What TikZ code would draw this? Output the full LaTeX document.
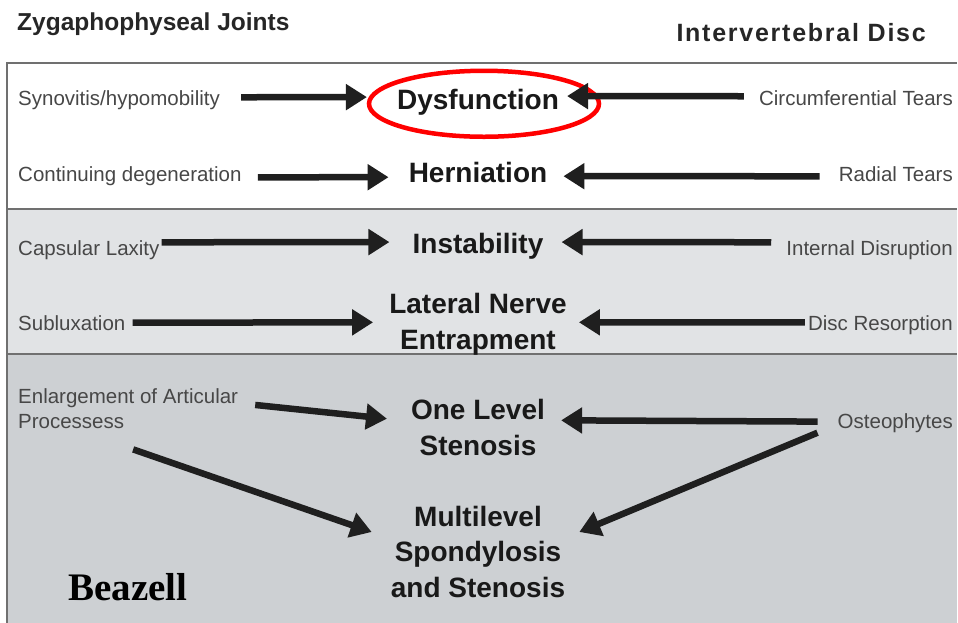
\documentclass[tikz,border=0pt]{standalone}
\usepackage{fontspec}
\setmainfont{Liberation Sans}
\newfontfamily\beafont{Liberation Serif}
\newfontfamily\hdrwide[LetterSpace=7]{Liberation Sans}
\usepackage{tikz}
\usetikzlibrary{arrows.meta}

\definecolor{bandmid}{HTML}{E1E3E5}
\definecolor{banddark}{HTML}{CDD0D3}
\definecolor{rulegray}{HTML}{707070}
\definecolor{sidegray}{HTML}{474747}

\begin{document}
\begin{tikzpicture}[
    x=1pt, y=-1pt,
    side/.style={inner sep=0pt, text=sidegray, font=\fontsize{20.5}{25}\selectfont},
    cause/.style={inner sep=0pt, align=center, text=black!90, font=\fontsize{28}{35.5}\selectfont\bfseries},
    hdr/.style={inner sep=0pt, text=black!85, font=\fontsize{24.5}{28}\selectfont\bfseries},
    ar/.style={-{Triangle[length=21pt,width=25pt]}, line width=6.5pt, draw=black!88},
    hl/.style={draw=red, line width=4.5pt}
]
\useasboundingbox (0,0) rectangle (958,623);
\fill[white] (0,0) rectangle (958,623);
% bands
\fill[bandmid] (7,209) rectangle (957,354);
\fill[banddark] (7,354) rectangle (957,623);
\draw[rulegray, line width=1.5pt] (7,623) -- (7,63) -- (957,63);
\draw[rulegray, line width=1.5pt] (7,209) -- (957,209);
\draw[rulegray, line width=1.5pt] (7,354) -- (957,354);

% headers
\node[hdr, anchor=base west] (zyg) at (17,31) {Zygaphophyseal Joints};
\node[hdr, anchor=base east, font=\fontsize{25}{28}\selectfont\bfseries\hdrwide] (ivd) at (926,42) {Intervertebral Disc};

% middle column (base = last line)
\node[cause, anchor=base] (dys) at (478,110) {Dysfunction};
\node[cause, anchor=base] (her) at (478,182) {Herniation};
\node[cause, anchor=base] (ins) at (478,253) {Instability};
\node[cause, anchor=base] (lat) at (478,349) {Lateral Nerve\\Entrapment};
\node[cause, anchor=base] (one) at (478,455) {One Level\\Stenosis};
\node[cause, anchor=base] (mul) at (478,597) {Multilevel\\Spondylosis\\and Stenosis};

% joint side
\node[side, anchor=base west] (syn) at (18,106) {Synovitis/hypomobility};
\node[side, anchor=base west] (deg) at (18,181) {Continuing degeneration};
\node[side, anchor=base west] (cap) at (18,255) {Capsular Laxity};
\node[side, anchor=base west] (sub) at (18,330) {Subluxation};
\node[side, anchor=base west, align=left] (enl) at (18,428) {Enlargement of Articular\\Processess};

% disc side
\node[side, anchor=base east] (cir) at (953,106) {Circumferential Tears};
\node[side, anchor=base east] (rad) at (953,181) {Radial Tears};
\node[side, anchor=base east] (idr) at (953,255) {Internal Disruption};
\node[side, anchor=base east] (res) at (953,330) {Disc Resorption};
\node[side, anchor=base east] (ost) at (953,428) {Osteophytes};

\node[anchor=base west, inner sep=0pt, font=\fontsize{39}{44}\selectfont\beafont\bfseries] (bea) at (68,600) {Beazell};

% highlight
\draw[hl] ([xshift=6pt,yshift=-1pt]dys.center) ellipse [x radius=115pt, y radius=33pt];

% arrows in
\draw[ar, shorten <=21pt, shorten >=30pt] ([yshift=3.4pt]syn.east) -- ([yshift=5.7pt]dys.west);
\draw[ar, shorten <=16pt, shorten >=20pt] ([yshift=-1.6pt]deg.east) -- ([yshift=-5.2pt]her.west);
\draw[ar, shorten <=2pt, shorten >=23pt] ([yshift=7.4pt]cap.east) -- ([yshift=3.7pt]ins.west);
\draw[ar, shorten <=7pt, shorten >=16pt] (sub.east) -- ([yshift=1.7pt]lat.west);
\draw[ar, shorten <=15pt, shorten >=8pt] ([yshift=2.4pt]cir.west) -- ([yshift=6.7pt]dys.east);
\draw[ar, shorten <=19pt, shorten >=16pt] ([yshift=-2.6pt]rad.west) -- ([yshift=-4.2pt]her.east);
\draw[ar, shorten <=15pt, shorten >=18pt] ([yshift=7.4pt]idr.west) -- ([yshift=3.7pt]ins.east);
\draw[ar, shorten <=3pt, shorten >=12pt] ([yshift=2.4pt]res.west) -- ([yshift=1.7pt]lat.east);
% stenosis arrows
\draw[ar, shorten <=17pt, shorten >=24pt] ([yshift=5pt]enl.east) -- ([yshift=6pt]one.west);
\draw[ar] ([xshift=5pt,yshift=-21pt]enl.south) -- ([xshift=-19pt,yshift=19.5pt]mul.west);
\draw[ar, shorten <=20pt, shorten >=16pt] ([yshift=1pt]ost.west) -- ([yshift=7pt]one.east);
\draw[ar] ([xshift=-20pt,yshift=-10pt]ost.west) -- ([xshift=14pt,yshift=19.5pt]mul.east);
\end{tikzpicture}
\end{document}
